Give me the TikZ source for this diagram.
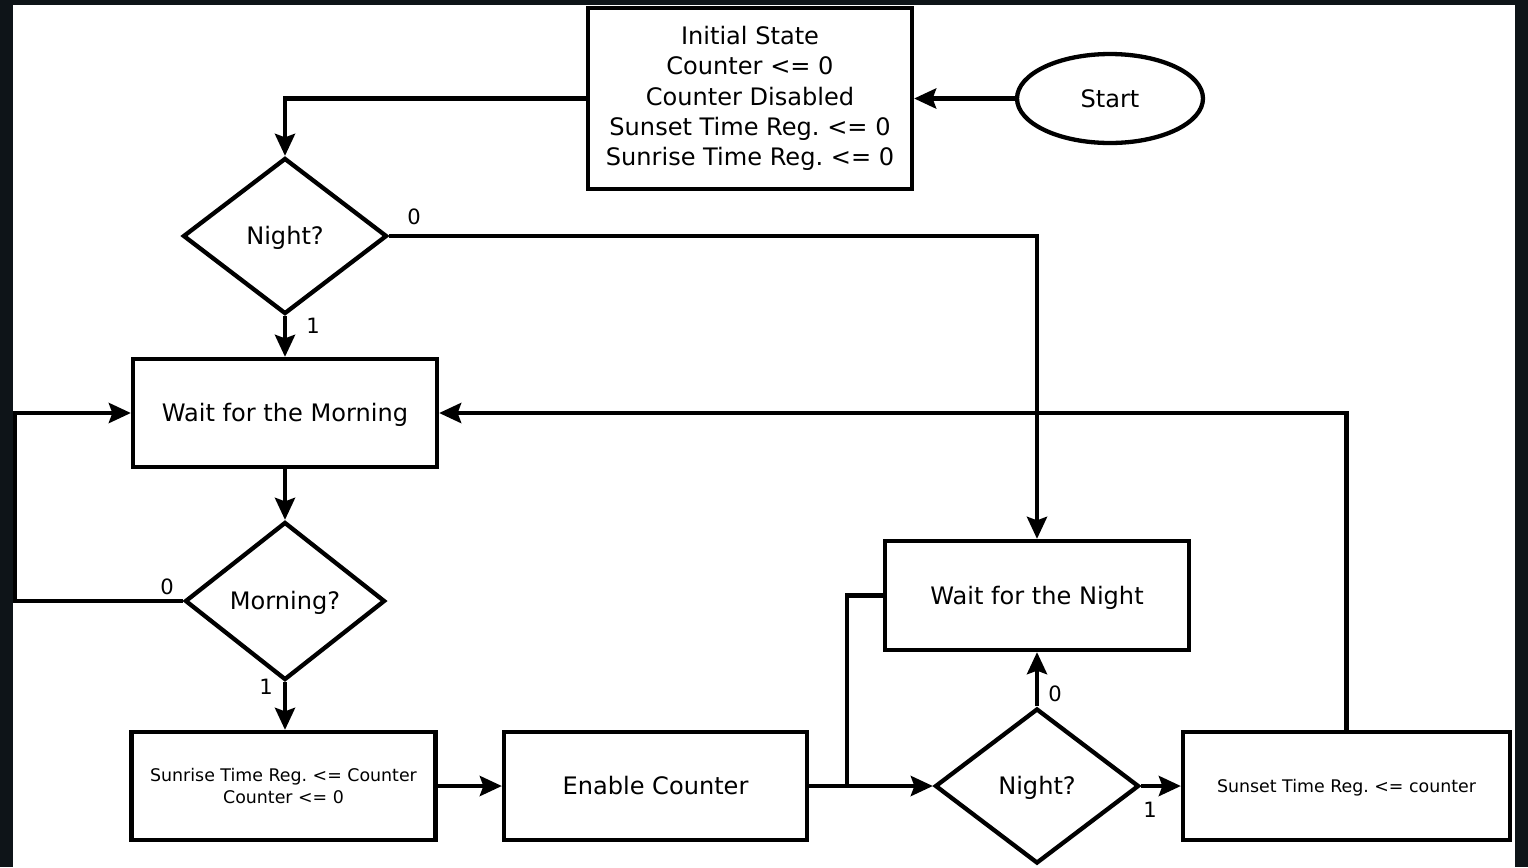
\documentclass[tikz,border=0pt]{standalone}
\usepackage{fontspec}
\setmainfont{DejaVu Sans}
\frenchspacing
\usetikzlibrary{shapes.geometric,arrows.meta}
\definecolor{frame}{RGB}{14,20,24}
\tikzset{
  base/.style={draw=black,line width=2.45pt,inner sep=0pt,align=center,
    font=\fontsize{13.7pt}{17.3pt}\selectfont},
  one/.style={text height=10pt,text depth=0pt},
  smallone/.style={text height=7.2pt,text depth=0pt},
  box/.style={base,rectangle},
  smallbox/.style={base,rectangle,font=\fontsize{9.9pt}{12.5pt}\selectfont},
  dia/.style={base,diamond,one},
  ell/.style={base,ellipse,one},
  conn/.style={line width=2.45pt,draw=black},
  arr/.style={conn,-{Stealth[length=0.44cm,width=0.4cm,inset=0.07cm]}},
  lbl/.style={inner sep=0pt,font=\fontsize{12pt}{13pt}\selectfont}
}
\begin{document}
\begin{tikzpicture}[x=0.02cm,y=-0.02cm]
\fill[frame] (0,0) rectangle (1528,867);
\fill[white] (13,5) rectangle (1515,867);
\useasboundingbox (0,0) rectangle (1528,867);

\node[box,minimum width=6.48cm,minimum height=3.62cm] (init) at (750,98.5)
  {Initial State\\Counter <= 0\\Counter Disabled\\Sunset Time Reg. <= 0\\Sunrise Time Reg. <= 0};
\node[ell,minimum width=3.72cm,minimum height=1.78cm] (start) at (1110,98.5) {Start};
\node[dia,minimum width=4.08cm,minimum height=3.12cm] (night1) at (285,236) {Night?};
\node[box,one,minimum width=6.08cm,minimum height=2.16cm] (waitm) at (285,413) {Wait for the Morning};
\node[dia,minimum width=4cm,minimum height=3.16cm] (morning) at (285,601) {Morning?};
\node[smallbox,minimum width=6.08cm,minimum height=2.16cm] (sunrise) at (283.5,786)
  {Sunrise Time Reg. <= Counter\\Counter <= 0};
\node[box,one,minimum width=6.06cm,minimum height=2.16cm] (enable) at (655.5,786) {Enable Counter};
\node[box,one,minimum width=6.08cm,minimum height=2.18cm] (waitn) at (1037,595.5) {Wait for the Night};
\node[dia,minimum width=4.08cm,minimum height=3.1cm] (night2) at (1037,786) {Night?};
\node[smallbox,smallone,minimum width=6.54cm,minimum height=2.16cm] (sunset) at (1346.5,786)
  {Sunset Time Reg. <= counter};

\coordinate (lx) at (15,601);
\coordinate (jn) at (847,786);

\draw[arr] (start.west) -- (init.east);
\draw[arr] (init.west) -| (night1.north);
\draw[arr] (night1.east) -| (waitn.north);
\draw[arr] (night1.south) -- (waitm.north);
\draw[arr] (waitm.south) -- (morning.north);
\draw[arr] (morning.west) -- (lx) |- (waitm.west);
\draw[arr] (morning.south) -- (sunrise.north -| morning.south);
\draw[arr] (sunrise.east) -- (enable.west);
\draw[arr] (enable.east) -- (night2.west);
\draw[conn] (waitn.west) -| (jn);
\draw[arr] (night2.north) -- (waitn.south);
\draw[arr] (night2.east) -- (sunset.west);
\draw[arr] (sunset.north) |- (waitm.east);

\node[lbl] (l1) at (414,217) {0};
\node[lbl] (l2) at (313,326) {1};
\node[lbl] (l3) at (167,587) {0};
\node[lbl] (l4) at (266,687) {1};
\node[lbl] (l5) at (1055,694) {0};
\node[lbl] (l6) at (1150,810) {1};
\end{tikzpicture}
\end{document}
